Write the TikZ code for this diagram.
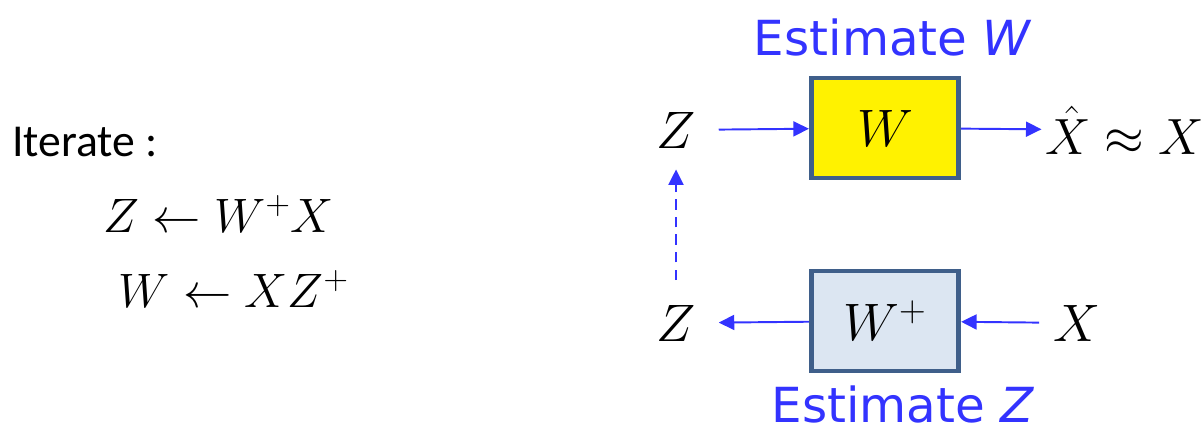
\documentclass[tikz,border=0pt]{standalone}
\usepackage{fix-cm}
\usepackage{fontspec}
\setmainfont{Carlito}
\newfontfamily\notefont{DejaVu Sans}
\usetikzlibrary{positioning,arrows.meta}
\definecolor{sigblue}{HTML}{3333FF}
\definecolor{boxedge}{HTML}{3F5F8A}
\definecolor{boxpale}{HTML}{DCE6F2}
\tikzset{
  >={Triangle[length=3.1mm,width=3mm]},
  sig/.style={->,sigblue,line width=1.1pt},
  feedback/.style={sig,dashed,dash pattern=on 6pt off 4pt},
  blockbox/.style={draw=boxedge,line width=2.7pt,minimum width=29.5mm,
    minimum height=20mm,inner sep=0pt,font=\fontsize{30}{36}\selectfont},
  var/.style={inner sep=0pt,font=\fontsize{30}{36}\selectfont},
  note/.style={sigblue,inner sep=0pt,font=\notefont\fontsize{27.5}{33}\selectfont},
  eqn/.style={anchor=west,inner sep=0pt,font=\fontsize{27.5}{33}\selectfont},
}
\begin{document}
\begin{tikzpicture}[x=0.02cm,y=-0.02cm]
  \useasboundingbox (0,0) rectangle (1201,436);
  % update rules
  \node[anchor=west,inner sep=0pt,font=\fontsize{26}{32}\selectfont] (iter) at (12,142) {Iterate :};
  \node[eqn] (eqz) at (103,214) {$Z \leftarrow W^{+}X$};
  \node[eqn] (eqw) at (118,289) {$W \leftarrow XZ^{+}$};
  % blocks
  \node[blockbox,fill=yellow] (wbox) at (885,128) {$W$};
  \node[blockbox,fill=boxpale] (wpbox) at (885,321) {$W^{+}$};
  \node[note] (estw) at (893,37) {Estimate \textit{W}};
  \node[note] (estz) at (903,404) {Estimate \textit{Z}};
  % signals
  \node[var] (ztop) at (676,130) {$Z$};
  \node[var] (zbot) at (676,323) {$Z$};
  \node[var,anchor=west,font=\fontsize{29}{34}\selectfont] (xhat) at (1045,130) {$\hat{X} \approx X$};
  \node[var] (xin) at (1077,323) {$X$};
  \draw[sig,shorten <=13pt] (ztop) -- (wbox);
  \draw[sig,shorten >=2pt] (wbox) -- (xhat);
  \draw[sig,shorten >=13pt] (wpbox) -- (zbot);
  \draw[sig,shorten <=8pt] (xin) -- (wpbox);
  \draw[feedback,shorten <=14pt,shorten >=12pt] (zbot) -- (ztop);
\end{tikzpicture}
\end{document}
